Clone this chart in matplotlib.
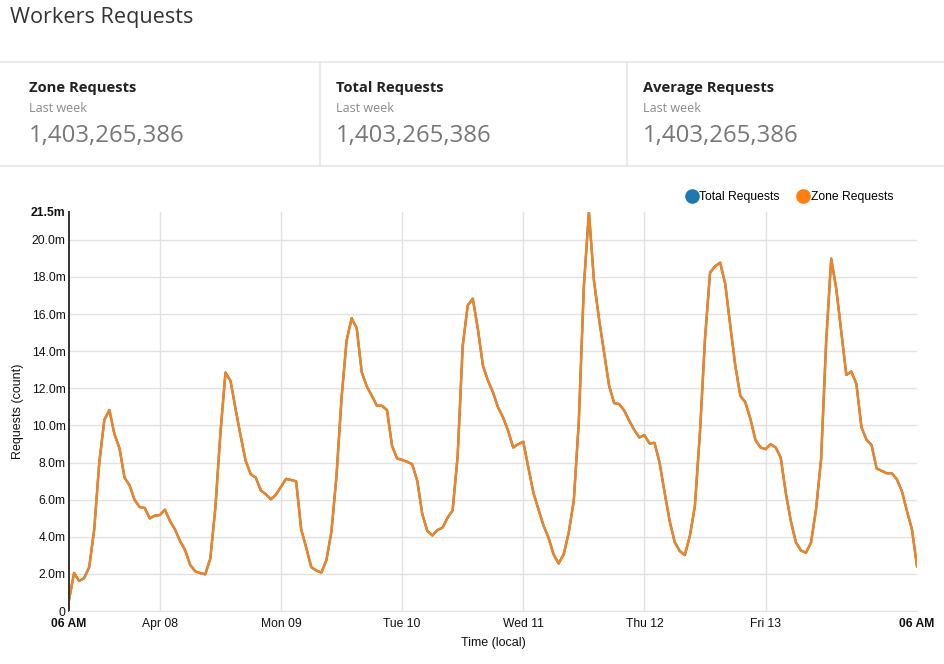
import numpy as np
import pandas as pd
import matplotlib
matplotlib.use("Agg")
import matplotlib.pyplot as plt
import matplotlib.dates as mdates
from matplotlib.lines import Line2D

# hourly requests in millions, 06 AM Apr 07 -> 06 AM Apr 14
zone_requests = [
    0.58, 2.05, 1.62, 1.77, 2.36, 4.4, 8.0, 10.3, 10.83, 9.53,
    8.77, 7.19, 6.77, 5.98, 5.6, 5.55, 4.99, 5.14, 5.17, 5.46,
    4.85, 4.4, 3.77, 3.28, 2.49, 2.14, 2.04, 1.98, 2.83, 5.57,
    9.6, 12.85, 12.4, 10.88, 9.44, 8.09, 7.37, 7.19, 6.5, 6.29,
    6.02, 6.27, 6.7, 7.12, 7.06, 6.99, 4.4, 3.41, 2.36, 2.18,
    2.07, 2.74, 4.3, 7.3, 11.5, 14.58, 15.78, 15.24, 12.86, 12.1,
    11.6, 11.06, 11.06, 10.83, 8.9, 8.22, 8.14, 8.04, 7.91, 7.01,
    5.21, 4.31, 4.07, 4.36, 4.49, 5.03, 5.42, 8.36, 14.3, 16.47,
    16.83, 15.2, 13.23, 12.41, 11.78, 10.97, 10.43, 9.71, 8.81, 8.99,
    9.12, 7.73, 6.38, 5.48, 4.61, 3.95, 3.05, 2.56, 3.05, 4.22,
    5.93, 10.2, 17.5, 21.5, 17.8, 15.75, 13.95, 12.14, 11.2, 11.15,
    10.8, 10.25, 9.75, 9.35, 9.48, 9.03, 9.06, 8.0, 6.38, 4.85,
    3.71, 3.23, 3.01, 4.04, 5.66, 9.62, 14.67, 18.23, 18.58, 18.77,
    17.64, 15.39, 13.23, 11.6, 11.24, 10.34, 9.21, 8.81, 8.72, 8.99,
    8.81, 8.27, 6.38, 4.85, 3.71, 3.26, 3.14, 3.68, 5.48, 8.18,
    14.49, 18.99, 17.37, 15.03, 12.72, 12.9, 12.23, 9.89, 9.23, 8.94,
    7.68, 7.55, 7.42, 7.42, 7.1, 6.47, 5.39, 4.4, 2.41,
]
total_requests = list(zone_requests)
times = pd.date_range("2018-04-07 06:00", periods=len(zone_requests), freq="h")

stat_titles = ["Zone Requests", "Total Requests", "Average Requests"]
stat_values = ["1,403,265,386", "1,403,265,386", "1,403,265,386"]
tick_days = ["2018-04-08", "2018-04-09", "2018-04-10", "2018-04-11", "2018-04-12", "2018-04-13"]
tick_day_labels = ["Apr 08", "Mon 09", "Tue 10", "Wed 11", "Thu 12", "Fri 13"]
y_ticks = [0, 2, 4, 6, 8, 10, 12, 14, 16, 18, 20, 21.5]

W, H = 945, 664
def fx(x):
    return x / W
def fy(y):
    return 1 - y / H

fig = plt.figure(figsize=(W / 100, H / 100), dpi=100)

# header
fig.text(fx(10), fy(18), "Workers Requests", fontsize=15.6, family="Open Sans",
         color="#333333", va="center")
for yy in [62, 166]:
    fig.add_artist(Line2D([0, 1], [fy(yy), fy(yy)], color="#e6e6e6", lw=1.2))
for xx in [320, 627]:
    fig.add_artist(Line2D([fx(xx), fx(xx)], [fy(62), fy(166)], color="#e6e6e6", lw=1.2))
for i, (t, v) in enumerate(zip(stat_titles, stat_values)):
    x0 = [29, 336, 643][i]
    fig.text(fx(x0), fy(88), t, fontsize=10.6, family="Open Sans", weight="bold",
             color="#222222", va="center")
    fig.text(fx(x0), fy(108), "Last week", fontsize=9, family="Open Sans",
             color="#8a8a8a", va="center")
    fig.text(fx(x0), fy(136), v, fontsize=17.3, family="Open Sans",
             color="#777777", va="center")

# chart
ax = fig.add_axes([fx(69), fy(611), (917 - 69) / W, (611 - 212) / H])
ax.plot(times, total_requests, color="#1f77b4", lw=1.6)
ax.plot(times, zone_requests, color="#ef8424", lw=1.8)
ax.set_xlim(times[0], times[-1])
ax.set_ylim(0, 21.5)

xt = [times[0]] + [pd.Timestamp(d) for d in tick_days] + [times[-1]]
ax.set_xticks(xt)
ax.set_xticklabels(["06 AM"] + tick_day_labels + ["06 AM"])
ax.set_yticks(y_ticks)
ax.set_yticklabels(["0"] + ["%.1fm" % v for v in y_ticks[1:]])
for lab in [ax.get_xticklabels()[0], ax.get_xticklabels()[-1], ax.get_yticklabels()[-1]]:
    lab.set_fontweight("bold")

ax.tick_params(length=0, labelsize=8.7, colors="#111111")
ax.tick_params(axis="x", pad=5)
ax.tick_params(axis="y", pad=2.5)
for lab in ax.get_xticklabels() + ax.get_yticklabels():
    lab.set_family("Liberation Sans")

ax.grid(True, color="#e2e2e2", lw=1)
ax.get_ygridlines()[-1].set_visible(False)
ax.get_xgridlines()[0].set_visible(False)
ax.get_xgridlines()[-1].set_visible(False)
ax.set_axisbelow(True)
for s in ["top", "right"]:
    ax.spines[s].set_visible(False)
ax.spines["bottom"].set_color("#e2e2e2")
ax.spines["left"].set_color("#333333")
ax.spines["left"].set_linewidth(1.4)

ax.set_ylabel("Requests (count)", fontsize=9, family="Liberation Sans", color="#111111")
ax.yaxis.set_label_coords(-0.053, 0.5)
ax.set_xlabel("Time (local)", fontsize=9, family="Liberation Sans", color="#111111")
ax.xaxis.set_label_coords(0.5, -0.065)

handles = [Line2D([], [], marker="o", ls="none", ms=9.5, color="#1f77b4"),
           Line2D([], [], marker="o", ls="none", ms=9.5, color="#ff7f0e")]
ax.legend(handles, ["Total Requests", "Zone Requests"], ncol=2, frameon=False,
          loc="center right", bbox_to_anchor=((898 - 69) / 848, 1 + 15 / 399),
          handletextpad=0.1, columnspacing=1.45, handlelength=1.0,
          prop={"family": "Liberation Sans", "size": 8.7}, borderaxespad=0)

fig.savefig("out.png", dpi=100)
